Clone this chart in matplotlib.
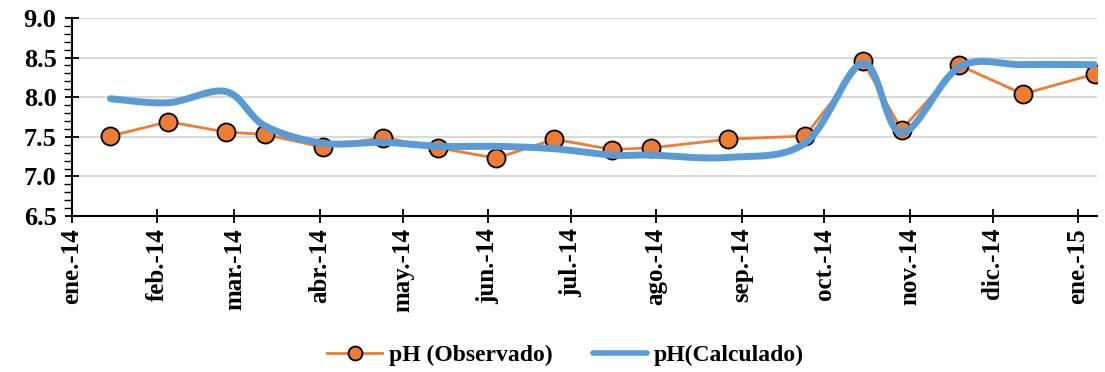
import numpy as np
import pandas as pd
import matplotlib
matplotlib.use("Agg")
import matplotlib.pyplot as plt
import matplotlib.dates as mdates
from matplotlib.ticker import MultipleLocator

# fechas de muestreo
fechas = pd.to_datetime([
    "2014-01-15", "2014-02-05", "2014-02-26", "2014-03-12", "2014-04-02",
    "2014-04-24", "2014-05-14", "2014-06-04", "2014-06-25", "2014-07-16",
    "2014-07-30", "2014-08-27", "2014-09-24", "2014-10-15", "2014-10-29",
    "2014-11-19", "2014-12-12", "2015-01-07",
])
ph_obs = [7.51, 7.69, 7.56, 7.53, 7.37, 7.49, 7.36, 7.23, 7.47, 7.34,
          7.36, 7.47, 7.51, 8.45, 7.59, 8.40, 8.04, 8.29]
ph_calc = [7.98, 7.93, 8.07, 7.64, 7.42, 7.43, 7.38, 7.38, 7.35, 7.27,
           7.27, 7.24, 7.42, 8.43, 7.55, 8.38, 8.41, 8.41]
meses = ["ene.-14", "feb.-14", "mar.-14", "abr.-14", "may.-14", "jun.-14",
         "jul.-14", "ago.-14", "sep.-14", "oct.-14", "nov.-14", "dic.-14",
         "ene.-15"]


def suavizar(x, y, n=20):
    # curva suavizada tipo Excel (Catmull-Rom)
    x = np.asarray(x, float)
    y = np.asarray(y, float)
    px = np.concatenate([[x[0]], x, [x[-1]]])
    py = np.concatenate([[y[0]], y, [y[-1]]])
    xs, ys = [], []
    t = np.linspace(0, 1, n)
    for i in range(1, len(px) - 2):
        for p, out in ((px, xs), (py, ys)):
            p0, p1, p2, p3 = p[i - 1], p[i], p[i + 1], p[i + 2]
            out.extend(0.5 * ((2 * p1) + (-p0 + p2) * t
                              + (2 * p0 - 5 * p1 + 4 * p2 - p3) * t ** 2
                              + (-p0 + 3 * p1 - 3 * p2 + p3) * t ** 3))
    return np.array(xs), np.array(ys)


plt.rcParams["font.family"] = ["Liberation Serif", "DejaVu Serif"]
plt.rcParams["font.weight"] = "bold"

fig = plt.figure(figsize=(11.05, 3.72), dpi=100)
ax = fig.add_axes([0.065, 0.419, 0.928, 0.533])

xnum = mdates.date2num(fechas)
xs, ys = suavizar(xnum, ph_calc)

ax.plot(xnum, ph_obs, "-o", color="#ED7D31", lw=2, ms=13,
        markerfacecolor="#ED7D31", markeredgecolor="black", mew=1.3,
        label="pH (Observado)", zorder=3)
ax.plot(xs, ys, color="#5B9BD5", lw=5, solid_capstyle="round",
        label="pH(Calculado)", zorder=4)

ax.set_ylim(6.5, 9.0)
ax.yaxis.set_major_locator(MultipleLocator(0.5))
ax.yaxis.set_minor_locator(MultipleLocator(0.1))
ax.yaxis.set_major_formatter(plt.FormatStrFormatter("%.1f"))
ax.grid(axis="y", color="#D9D9D9", lw=1.5, zorder=0)

ticks = pd.date_range("2014-01-01", "2015-01-01", freq="MS")
ax.set_xticks(mdates.date2num(ticks))
ax.set_xticklabels(meses, rotation=90)
ax.set_xlim(mdates.date2num(pd.Timestamp("2014-01-01")),
            mdates.date2num(pd.Timestamp("2015-01-08")))

for s in ["top", "right"]:
    ax.spines[s].set_visible(False)
for s in ["left", "bottom"]:
    ax.spines[s].set_linewidth(1.5)

ax.tick_params(axis="both", which="major", direction="inout", length=10,
               width=1.3)
ax.tick_params(axis="y", which="minor", direction="out", length=6, width=1)
ax.tick_params(axis="y", labelsize=19, pad=6)
ax.tick_params(axis="x", labelsize=18)

leg = fig.legend(loc="lower center", ncol=2, frameon=False, fontsize=17,
                 bbox_to_anchor=(0.512, -0.042), handlelength=2.3,
                 handletextpad=0.3, columnspacing=1.7)
leg.legend_handles[0].set_markersize(10)
leg.legend_handles[1].set_linewidth(4)

fig.savefig("out.png", dpi=100)
